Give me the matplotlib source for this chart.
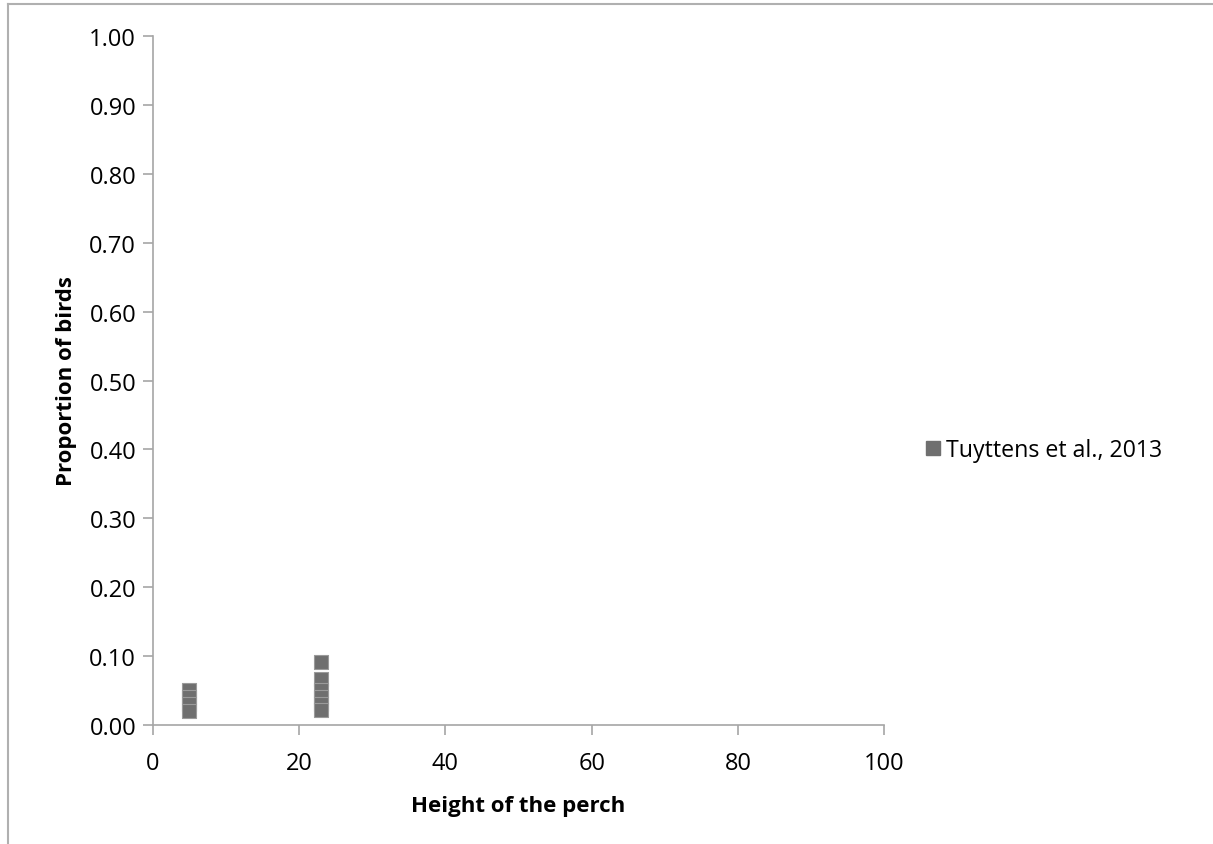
import matplotlib
matplotlib.use("Agg")
import matplotlib.pyplot as plt
from matplotlib.lines import Line2D

plt.rcParams['font.family'] = ['Open Sans', 'DejaVu Sans']

x_vals = [5, 5, 5, 5, 23, 23, 23, 23, 23, 23]
y_vals = [0.05, 0.04, 0.03, 0.02, 0.091, 0.066, 0.05, 0.04, 0.03, 0.022]
series_label = "Tuyttens et al., 2013"
x_ticks = [0, 20, 40, 60, 80, 100]
y_ticks = [0.0, 0.1, 0.2, 0.3, 0.4, 0.5, 0.6, 0.7, 0.8, 0.9, 1.0]

fig = plt.figure(figsize=(12.13, 8.45), dpi=100)
ax = fig.add_axes([0.126, 0.141, 0.603, 0.815])

mcol = '#6f6f6f'
ax.scatter(x_vals, y_vals, marker='s', s=100, color=mcol, edgecolors='#9a9a9a',
           linewidths=0.8, zorder=3, label=series_label)

ax.set_xlim(0, 100)
ax.set_ylim(0, 1.0)
ax.set_xticks(x_ticks)
ax.set_yticks(y_ticks)
ax.set_xticklabels([str(t) for t in x_ticks], fontsize=17)
ax.set_yticklabels([f"{t:.2f}" for t in y_ticks], fontsize=17)

for s in ['top', 'right']:
    ax.spines[s].set_visible(False)
for s in ['left', 'bottom']:
    ax.spines[s].set_color('#a6a6a6')
    ax.spines[s].set_linewidth(1.2)
ax.tick_params(axis='both', colors='#a6a6a6', labelcolor='black', length=7, width=1.2, direction='out')
ax.tick_params(axis='x', pad=12)
ax.tick_params(axis='y', pad=5)

ax.set_xlabel("Height of the perch", fontsize=16, fontweight='bold', labelpad=14)
ax.set_ylabel("Proportion of birds", fontsize=16, fontweight='bold', labelpad=9)

handle = Line2D([], [], marker='s', linestyle='none', markersize=10, color=mcol)
fig.legend([handle], [series_label], loc='center left', bbox_to_anchor=(0.742, 0.466),
           frameon=False, fontsize=16.7, handletextpad=0.1, handlelength=1.0)

# outer chart border (left and top)
fig.add_artist(Line2D([0.0065, 0.0065], [0, 0.9935], transform=fig.transFigure, color='#b0b0b0', lw=1.5))
fig.add_artist(Line2D([0.0065, 1.0], [0.9935, 0.9935], transform=fig.transFigure, color='#b0b0b0', lw=1.5))

fig.savefig("out.png", dpi=100)
